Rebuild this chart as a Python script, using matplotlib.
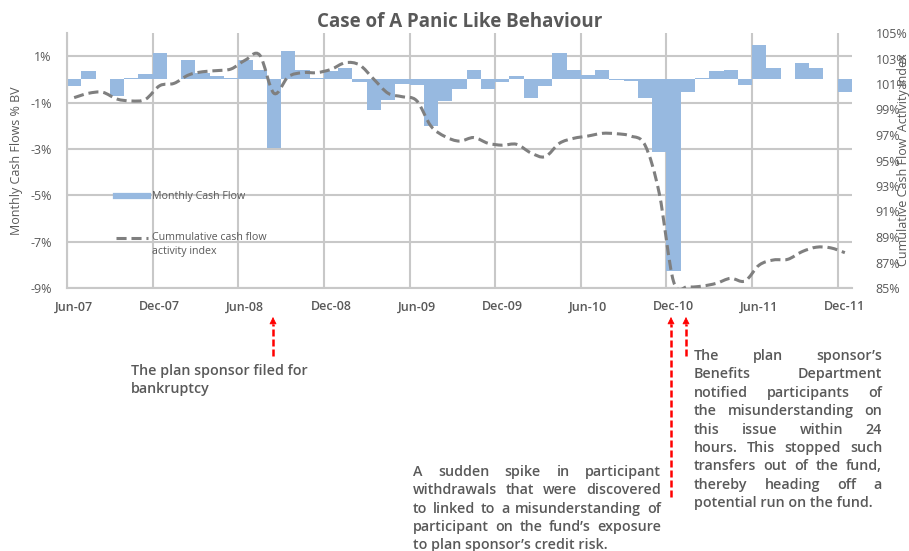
import matplotlib
matplotlib.use('Agg')
import matplotlib.pyplot as plt
from matplotlib.path import Path
from matplotlib.patches import PathPatch, FancyArrowPatch
from matplotlib.lines import Line2D
import numpy as np

plt.rcParams['font.family'] = ['Open Sans', 'DejaVu Sans']

# x axis labels, every 6 months from Jun-07
tick_labels = ['Jun-07', 'Dec-07', 'Jun-08', 'Dec-08', 'Jun-09',
               'Dec-09', 'Jun-10', 'Dec-10', 'Jun-11', 'Dec-11']
# monthly cash flow, % of BV (Jun-07 .. Dec-11)
cash_flow = [-0.3, 0.35, 0.0, -0.72, 0.07, 0.22, 1.15, 0.02, 0.82, 0.29,
             0.13, 0.05, 0.84, 0.4, -2.96, 1.23, 0.4, 0.05, 0.36, 0.5,
             -0.12, -1.34, -0.9, -0.19, -0.26, -2.02, -0.94, -0.4, 0.39, -0.43,
             -0.11, 0.13, -0.8, -0.29, 1.13, 0.42, 0.2, 0.39, -0.03, -0.05,
             -0.8, -3.13, -8.25, -0.53, 0.07, 0.35, 0.42, -0.23, 1.47, 0.48,
             0.0, 0.72, 0.48, 0.0, -0.53]
# cumulative cash flow activity index, %
activity = [99.93, 100.27, 100.35, 99.82, 99.67, 99.8, 100.87, 101.05, 101.7, 101.96,
            102.05, 102.18, 102.88, 103.27, 100.27, 101.57, 101.89, 101.89, 102.15, 102.67,
            102.49, 101.37, 100.27, 100.0, 99.69, 97.7, 96.87, 96.52, 96.8, 96.35,
            96.2, 96.27, 95.6, 95.3, 96.35, 96.74, 96.92, 97.13, 97.1, 96.92,
            96.2, 92.4, 85.5, 85.1, 85.15, 85.37, 85.76, 85.55, 86.8, 87.2,
            87.25, 87.85, 88.2, 88.15, 87.77]

txt = '#595959'
grid = '#C8C8C8'
W, H = 909, 551

fig = plt.figure(figsize=(9.09, 5.51), dpi=100)
ax = fig.add_axes([67/W, 1-288/H, (852-67)/W, (288-33)/H])

n = len(cash_flow)
xs = np.arange(n)
ax.bar(xs, cash_flow, width=1.0, align='edge', color='#97B9E0', linewidth=0, zorder=2)
ax.set_xlim(0, n)
ax.set_ylim(-9, 2)
ax.set_yticks([-9, -7, -5, -3, -1, 1])
ax.set_yticklabels(['%d%%' % v for v in [-9, -7, -5, -3, -1, 1]])
ax.set_xticks(np.arange(0, n, 6))
ax.set_xticklabels([])
ax.set_xticks(np.arange(0, n, 6) + 0.5, minor=True)
ax.set_xticklabels(tick_labels, minor=True, fontweight='semibold')
ax.tick_params(axis='both', which='both', length=0, colors=txt, labelsize=9)
ax.tick_params(axis='y', pad=11)
ax.tick_params(axis='x', which='minor', pad=9)
ax.grid(True, which='major', color=grid, linewidth=1.5)
ax.set_axisbelow(True)
for s in ['top', 'right']:
    ax.spines[s].set_visible(False)
for s in ['left', 'bottom']:
    ax.spines[s].set_color(grid)
    ax.spines[s].set_linewidth(1.5)

ax2 = ax.twinx()
ax2.set_ylim(85, 105)
ax2.set_yticks(np.arange(85, 106, 2))
ax2.set_yticklabels(['%d%%' % v for v in np.arange(85, 106, 2)])
ax2.tick_params(axis='y', length=0, colors=txt, labelsize=9, pad=17)
for s in ax2.spines.values():
    s.set_visible(False)

# smoothed line (Excel style, bezier through monthly points)
px = xs + 0.5
py = np.array(activity)
verts = [(px[0], py[0])]
codes = [Path.MOVETO]
for i in range(n - 1):
    p0 = np.array([px[max(i-1, 0)], py[max(i-1, 0)]])
    p1 = np.array([px[i], py[i]])
    p2 = np.array([px[i+1], py[i+1]])
    p3 = np.array([px[min(i+2, n-1)], py[min(i+2, n-1)]])
    c1 = p1 + (p2 - p0) / 6
    c2 = p2 - (p3 - p1) / 6
    verts += [tuple(c1), tuple(c2), tuple(p2)]
    codes += [Path.CURVE4] * 3
ax2.add_patch(PathPatch(Path(verts, codes), fill=False, edgecolor='#7F7F7F',
                        linewidth=2.2, linestyle=(0, (3.3, 1.6)), zorder=3))

# titles
fig.text(460/W, 1-22/H, 'Case of A Panic Like Behaviour', ha='center', va='center',
         fontsize=13.5, fontweight='bold', color=txt)
fig.text(17/W, 1-161/H, 'Monthly Cash Flows % BV', rotation=90, ha='center', va='center',
         fontsize=9, color=txt)
fig.text(903/W, 1-160/H, 'Cumulative Cash Flow  Activity Index', rotation=90,
         ha='center', va='center', fontsize=9, color=txt)

# legend
fig.add_artist(Line2D([116/W, 148/W], [1-196/H, 1-196/H], color='#97B9E0', linewidth=4.5))
fig.text(152/W, 1-196/H, 'Monthly Cash Flow', va='center', fontsize=7.7, color=txt)
fig.add_artist(Line2D([116/W, 148/W], [1-238/H, 1-238/H], color='#7F7F7F', linewidth=2.2,
                      linestyle=(0, (3.3, 1.6))))
fig.text(152/W, 1-238/H, 'Cummulative cash flow', va='center', fontsize=7.7, color=txt)
fig.text(152/W, 1-252/H, 'activity index', va='center', fontsize=7.7, color=txt)

# red dashed arrows
def red_arrow(x, y_tip, y_bot):
    fig.add_artist(Line2D([x/W, x/W], [1-y_bot/H, 1-(y_tip+7)/H], color='red',
                          linewidth=1.8, linestyle=(0, (2.8, 1.2))))
    fig.add_artist(FancyArrowPatch((x/W, 1-(y_tip+8)/H), (x/W, 1-y_tip/H),
                                   transform=fig.transFigure, arrowstyle='-|>',
                                   mutation_scale=11, color='red', linewidth=0.5,
                                   shrinkA=0, shrinkB=0))

red_arrow(273, 317, 356)
red_arrow(671, 317, 497)
red_arrow(686, 317, 356)

r = fig.canvas.get_renderer()

def justified(lines, x0, x1, y_top, step, justify=True):
    kw = dict(fontsize=10.3, fontweight='semibold', color=txt, va='center')
    for k, line in enumerate(lines):
        y = 1 - (y_top + k*step)/H
        words = line.split()
        if not justify or k == len(lines) - 1 or len(words) == 1:
            fig.text(x0/W, y, line, **kw)
            continue
        ts = [fig.text(0, y, w, **kw) for w in words]
        ws = [t.get_window_extent(r).width for t in ts]
        gap = (x1 - x0 - sum(ws)) / (len(words) - 1)
        x = x0
        for t, w in zip(ts, ws):
            t.set_x(x/W)
            x += w + gap

justified(['The plan sponsor filed for', 'bankruptcy'], 131, 313, 371, 18.3, justify=False)
justified(['A sudden spike in participant',
           'withdrawals that were discovered',
           'to linked to a misunderstanding of',
           'participant on the fund\u2019s exposure',
           'to plan sponsor\u2019s credit risk.'], 413, 661, 472, 18.3)
justified(['The plan sponsor\u2019s',
           'Benefits Department',
           'notified participants of',
           'the misunderstanding on',
           'this issue within 24',
           'hours.  This stopped such',
           'transfers out of the fund,',
           'thereby heading off a',
           'potential run on the fund.'], 694, 882, 356, 18.4)

fig.savefig('out.png', dpi=100)
